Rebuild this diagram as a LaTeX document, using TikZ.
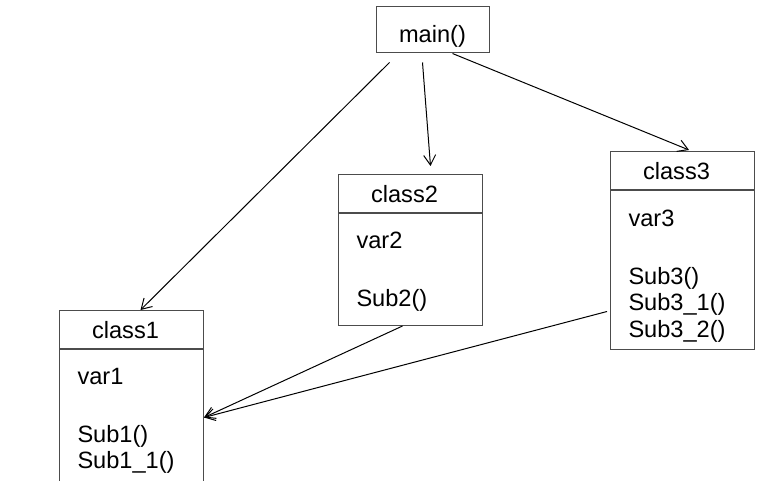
\documentclass[tikz,border=0pt]{standalone}
\usepackage{fontspec}
\setmainfont{Liberation Sans}
\usetikzlibrary{arrows.meta,positioning}

\begin{document}
\begin{tikzpicture}[x=0.5pt,y=-0.5pt,
  font=\fontsize{11.8}{13.25}\selectfont,
  box/.style={draw=black!70,line width=0.5pt,inner sep=0pt},
  clshead/.style={box,anchor=north west,minimum width=72pt,text height=14pt,text depth=5pt,execute at end node=\hspace{6pt}},
  clsbody/.style={box,inner xsep=9pt,text width=54pt,align=left,text height=17.5pt},
  arr/.style={-{Straight Barb[length=5pt,width=6pt]},line width=0.5pt}]
\useasboundingbox (0,0) rectangle (762,481);
\node[box,minimum width=56.5pt,text height=18pt,text depth=5pt] (main) at (432.5,30) {main()};
\node[clshead] (c1) at (59,310) {class1};
\node[clsbody,below=0pt of c1,text depth=50.5pt] (c1b) {var1\\[15.75pt]Sub1()\\Sub1\_1()};
\node[clshead] (c2) at (338,174) {class2};
\node[clsbody,below=0pt of c2,text depth=38.5pt] (c2b) {var2\\[15.75pt]Sub2()};
\node[clshead] (c3) at (610,151) {class3};
\node[clsbody,below=0pt of c3,text height=18pt,text depth=61.5pt] (c3b) {var3\\[15.75pt]Sub3()\\Sub3\_1()\\Sub3\_2()};
\draw[arr] ([shift={(14,9)}]main.south west) -- ([xshift=4.5pt]c1.north);
\draw[arr] ([shift={(-10,9)}]main.south) -- ([shift={(20,-8)}]c2.north);
\draw[arr] ([xshift=10pt]main.south) -- ([shift={(6.5,-1)}]c3.north);
\draw[arr] ([xshift=-4pt]c2b.south) -- (c1b.east);
\draw[arr] ([shift={(-3,41.5)}]c3b.west) -- (c1b.east);
\end{tikzpicture}
\end{document}
